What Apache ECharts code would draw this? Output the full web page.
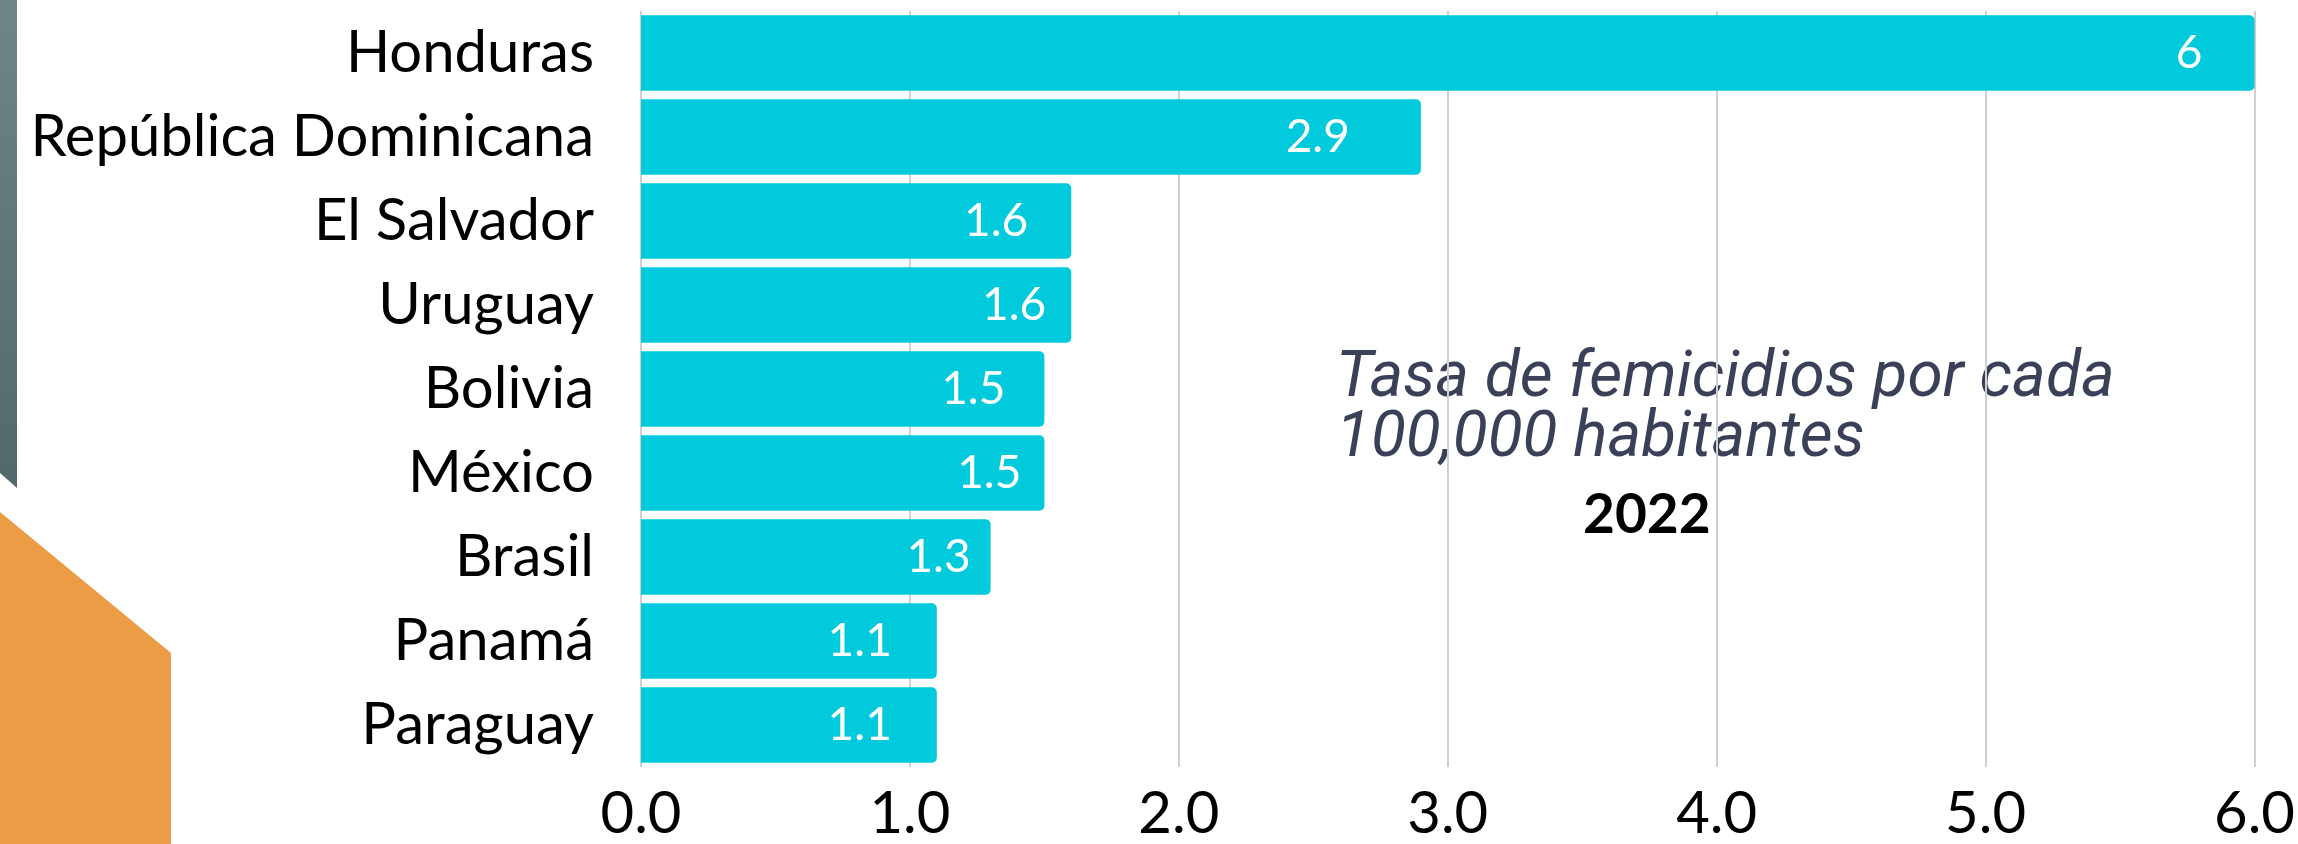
<!DOCTYPE html>
<html>
<head>
<meta charset="utf-8">
<script src="https://cdn.jsdelivr.net/npm/echarts@6/dist/echarts.min.js"></script>
<style>
  html, body { margin: 0; padding: 0; background: #fff; }
  #chart { width: 2298px; height: 844px; }
</style>
</head>
<body>
<div id="chart"></div>
<script>
// datos: tasa de femicidios por cada 100,000 habitantes (2022)
const countries = ['Honduras', 'República Dominicana', 'El Salvador', 'Uruguay', 'Bolivia', 'México', 'Brasil', 'Panamá', 'Paraguay'];
const rates = [6, 2.9, 1.6, 1.6, 1.5, 1.5, 1.3, 1.1, 1.1];
const xTicks = [0, 1, 2, 3, 4, 5, 6];

// distancia de la etiqueta al final de cada barra (como en el original)
const labelPad = [52, 71, 43, 25, 39, 23, 20, 45, 45];

const chart = echarts.init(document.getElementById('chart'));

chart.setOption({
  animation: false,
  grid: { left: 641, right: 37, top: 11, bottom: 77, containLabel: false },
  xAxis: {
    type: 'value',
    min: xTicks[0],
    max: xTicks[xTicks.length - 1],
    interval: 1,
    axisLine: { show: false },
    axisTick: { show: false },
    splitLine: { show: true, lineStyle: { color: '#d0d0d0', width: 2 } },
    axisLabel: {
      formatter: v => v.toFixed(1),
      fontFamily: 'Lato',
      fontSize: 58,
      color: '#000',
      margin: 18
    }
  },
  yAxis: {
    type: 'category',
    data: countries,
    inverse: true,
    axisLine: { show: false },
    axisTick: { show: false },
    axisLabel: {
      fontFamily: 'Lato',
      fontSize: 58,
      color: '#000',
      margin: 47
    }
  },
  series: [{
    type: 'bar',
    data: rates.map((v, i) => ({ value: v, label: { distance: labelPad[i] } })),
    barCategoryGap: '10%',
    itemStyle: { color: '#00cadc', borderRadius: [0, 5, 5, 0] },
    label: {
      show: true,
      position: 'insideRight',
      color: '#fff',
      fontFamily: 'Lato',
      fontSize: 46
    }
  }],
  graphic: [
    {
      type: 'polygon',
      shape: { points: [[0, 0], [17, 0], [17, 488], [0, 473]] },
      style: {
        fill: new echarts.graphic.LinearGradient(0, 0, 0, 1, [
          { offset: 0, color: '#6e8685' },
          { offset: 1, color: '#52686a' }
        ])
      }
    },
    {
      type: 'polygon',
      shape: { points: [[0, 512], [171, 653], [171, 844], [0, 844]] },
      style: { fill: '#ec9c45' }
    },
    {
      type: 'text',
      left: 1336,
      top: 348,
      style: {
        text: 'Tasa de femicidios por cada\n100,000 habitantes',
        fontFamily: 'Roboto',
        fontStyle: 'italic',
        fontWeight: 'normal',
        fontSize: 64,
        lineHeight: 60,
        fill: '#3a4058'
      }
    },
    {
      type: 'text',
      left: 1583,
      top: 488,
      style: {
        text: '2022',
        fontFamily: 'Lato',
        fontWeight: 'bold',
        fontSize: 55,
        fill: '#000'
      }
    }
  ]
});
</script>
</body>
</html>
